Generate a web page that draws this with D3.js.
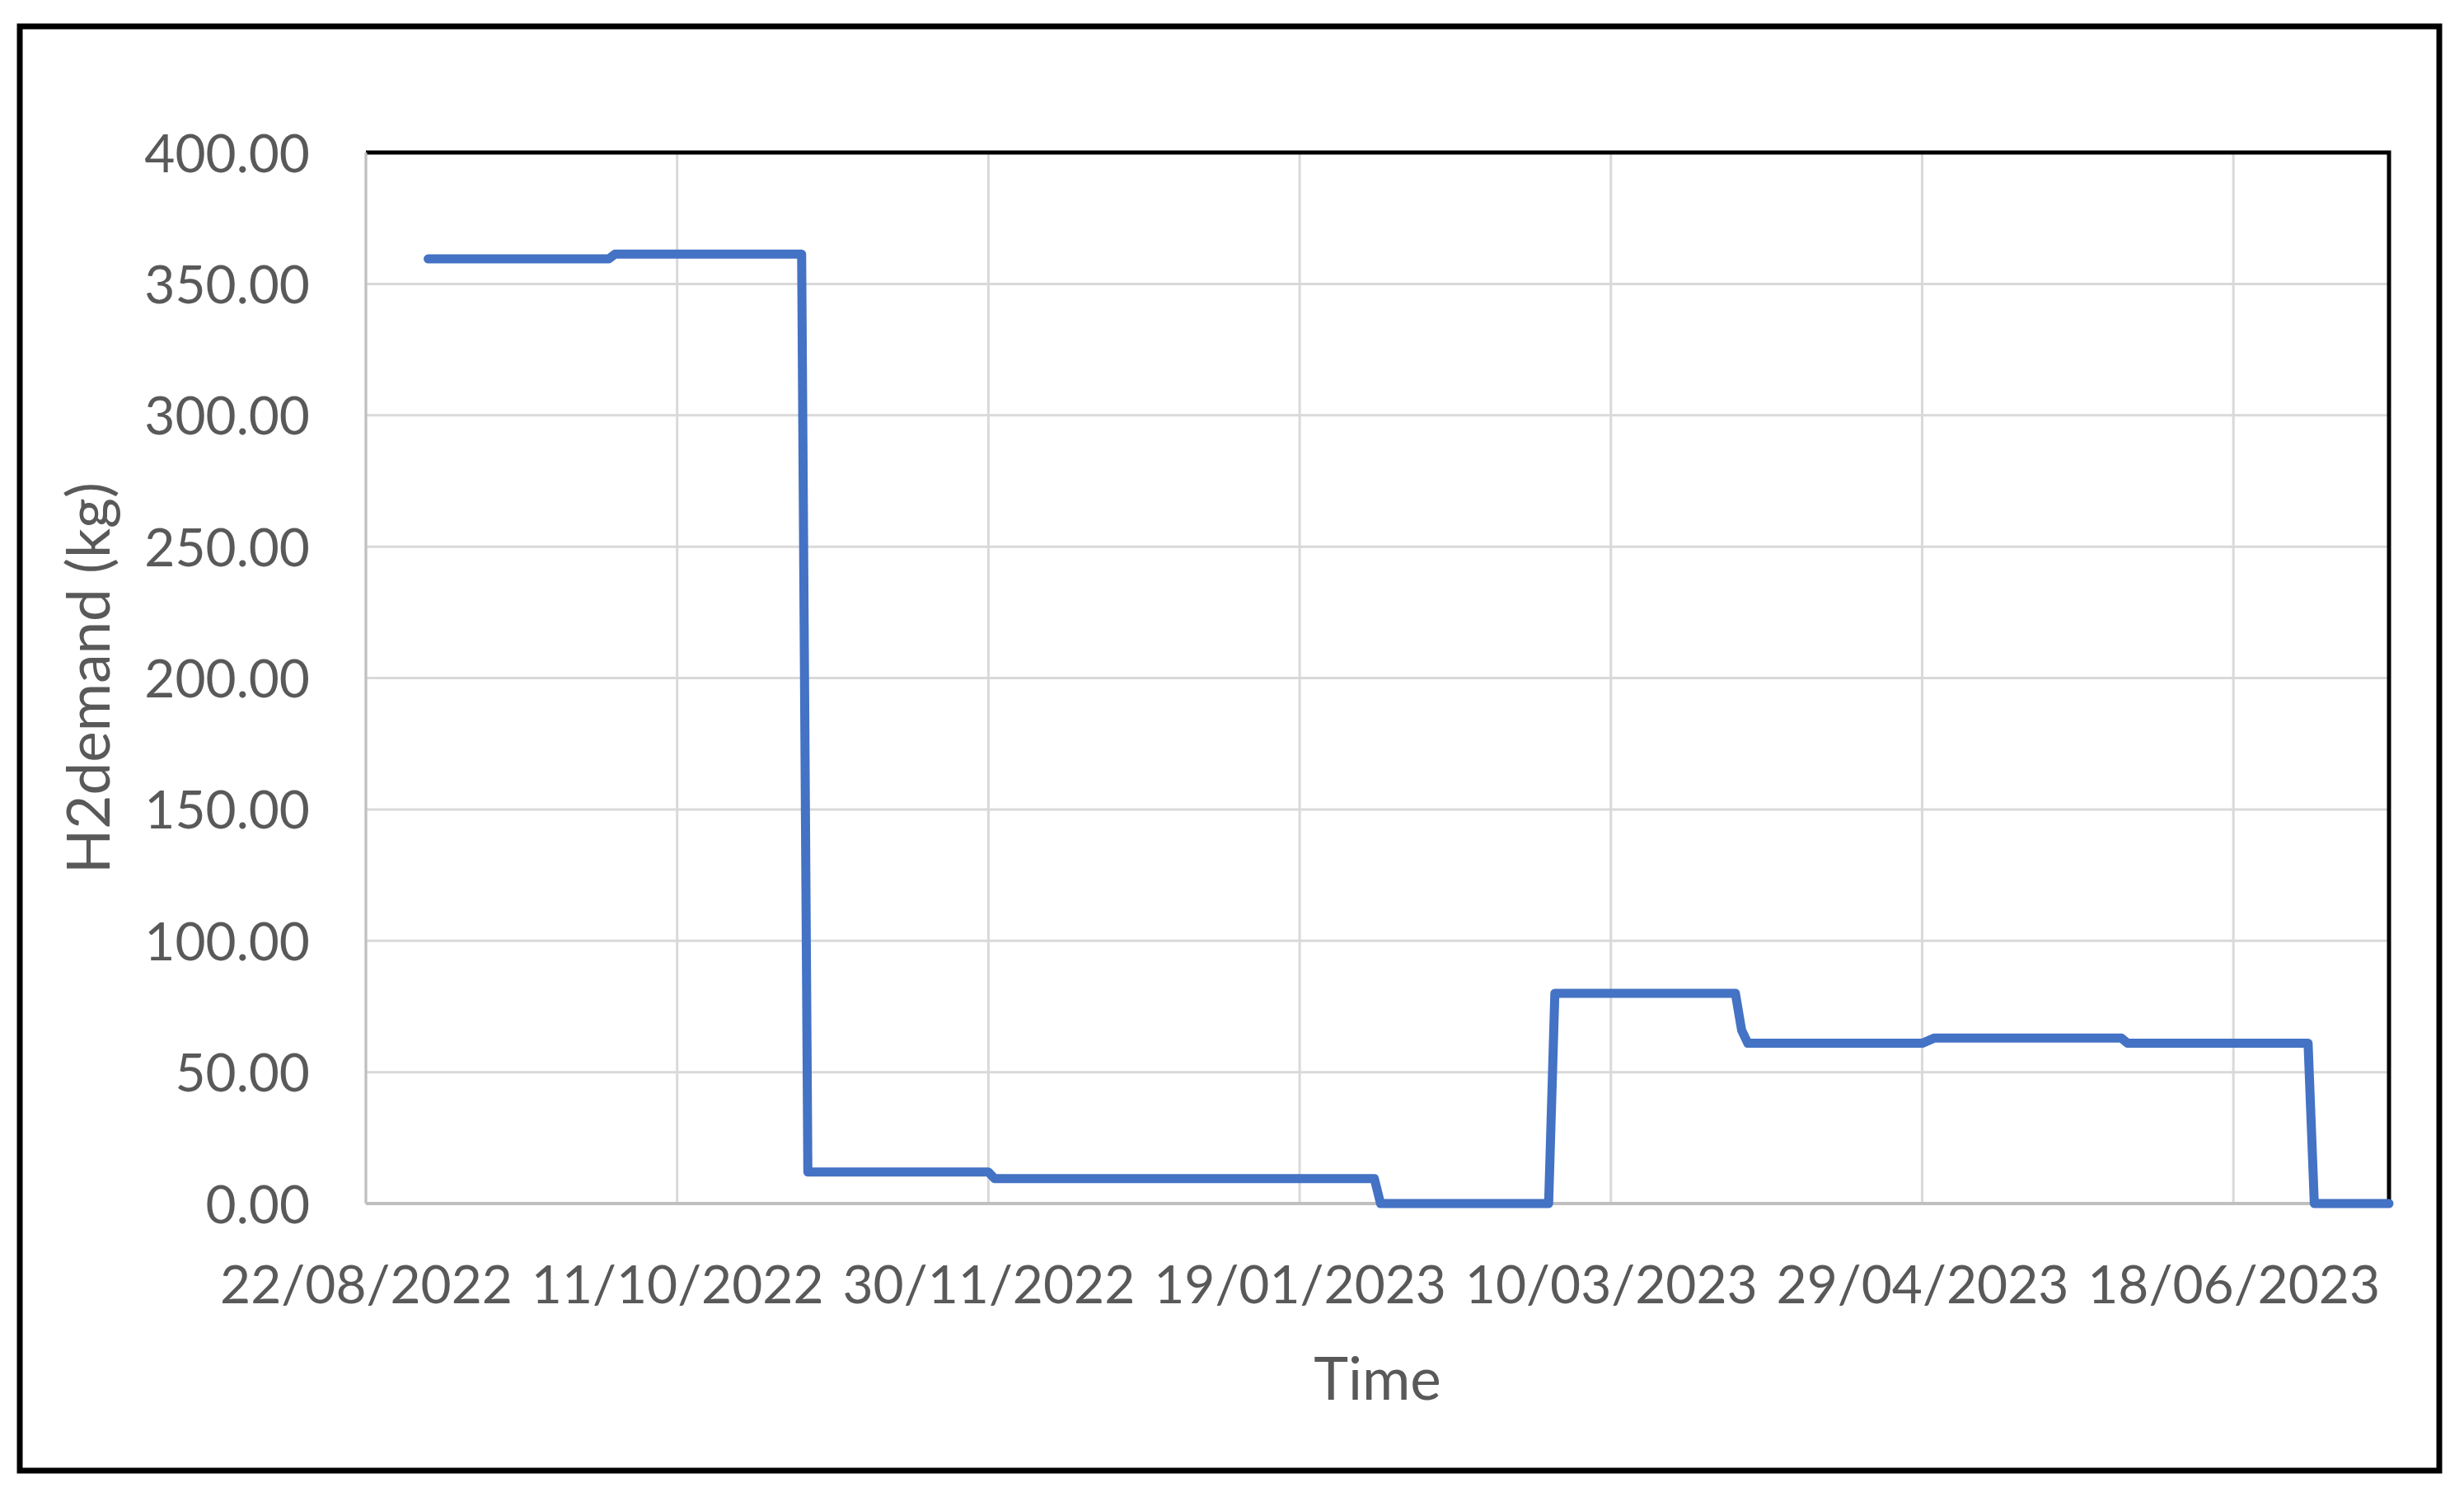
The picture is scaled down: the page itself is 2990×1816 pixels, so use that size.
<!DOCTYPE html>
<html>
<head>
<meta charset="utf-8">
<script src="https://cdn.jsdelivr.net/npm/d3@7"></script>
<style>
  body { margin: 0; background: #fff; }
  svg { display: block; }
</style>
</head>
<body>
<div id="chart"></div>
<script>
// data (dd/mm/yyyy, kg)
const dates = ["01/09/2022", "30/09/2022", "01/10/2022", "31/10/2022", "01/11/2022",
               "30/11/2022", "01/12/2022", "31/01/2023", "01/02/2023", "28/02/2023",
               "01/03/2023", "30/03/2023", "31/03/2023", "01/04/2023", "29/04/2023",
               "01/05/2023", "31/05/2023", "01/06/2023", "30/06/2023", "01/07/2023",
               "13/07/2023"]
const demand = [359.5, 359.5, 361.3, 361.3, 12,
                12, 9.5, 9.5, 0, 0,
                80, 80, 66, 61, 61,
                63, 63, 61, 61, 0,
                0]
const xTickLabels = ["22/08/2022", "11/10/2022", "30/11/2022", "19/01/2023",
                     "10/03/2023", "29/04/2023", "18/06/2023"]
const xDomainLabels = ["22/08/2022", "13/07/2023"]
const yTicks = [0, 50, 100, 150, 200, 250, 300, 350, 400]

const parseDate = d3.utcParse("%d/%m/%Y")
const fmtDate = d3.utcFormat("%d/%m/%Y")
const data = dates.map((d, i) => ({date: parseDate(d), value: demand[i]}))

// layout
const width = 2990
const height = 1816
const margin = {top: 185, right: 91, bottom: 356, left: 444}
const innerWidth = width - margin.left - margin.right
const innerHeight = height - margin.top - margin.bottom
const textColor = "#595959"
const font = "Lato, 'Open Sans', sans-serif"

const svg = d3.select("#chart").append("svg")
              .attr("width", width)
              .attr("height", height)
              .attr("viewBox", [0, 0, width, height])

svg.append("rect")
   .attr("width", width)
   .attr("height", height)
   .attr("fill", "#fff")

// outer frame
svg.append("rect")
   .attr("x", 24)
   .attr("y", 32)
   .attr("width", 2936)
   .attr("height", 1752)
   .attr("fill", "none")
   .attr("stroke", "#000")
   .attr("stroke-width", 7)

const chart = svg.append("g")
                 .attr("transform", `translate(${margin.left}, ${margin.top})`)

// scales
const xScale = d3.scaleUtc()
                 .domain(xDomainLabels.map(parseDate))
                 .range([0, innerWidth])
const yScale = d3.scaleLinear()
                 .domain([0, 400])
                 .range([innerHeight, 0])

// gridlines
chart.append("g")
     .selectAll("line")
     .data(yTicks)
     .join("line")
     .attr("x1", 0)
     .attr("x2", innerWidth)
     .attr("y1", d => yScale(d))
     .attr("y2", d => yScale(d))
     .attr("stroke", "#d9d9d9")
     .attr("stroke-width", 3)
chart.append("g")
     .selectAll("line")
     .data(xTickLabels.map(parseDate))
     .join("line")
     .attr("x1", d => xScale(d))
     .attr("x2", d => xScale(d))
     .attr("y1", 0)
     .attr("y2", innerHeight)
     .attr("stroke", "#d9d9d9")
     .attr("stroke-width", 3)

// plot area border: black top and right
chart.append("path")
     .attr("d", `M0,0H${innerWidth}V${innerHeight}`)
     .attr("fill", "none")
     .attr("stroke", "#000")
     .attr("stroke-width", 5)

// axes
const xAxis = d3.axisBottom(xScale)
                .tickValues(xTickLabels.map(parseDate))
                .tickFormat(fmtDate)
                .tickSize(0)
                .tickPadding(0)
const yAxis = d3.axisLeft(yScale)
                .tickValues(yTicks)
                .tickFormat(d3.format(".2f"))
                .tickSize(0)
                .tickPadding(0)

const gx = chart.append("g")
                .attr("transform", `translate(0, ${innerHeight})`)
                .call(xAxis)
                .attr("font-family", font)
                .attr("font-size", 64)
gx.select(".domain").remove()
gx.selectAll("text")
  .attr("y", 121)
  .attr("dy", 0)
  .attr("fill", textColor)

const gy = chart.append("g")
                .call(yAxis)
                .attr("font-family", font)
                .attr("font-size", 64)
gy.select(".domain").remove()
gy.selectAll("text")
  .attr("x", -68)
  .attr("dy", "0.36em")
  .attr("fill", textColor)

// gray axis lines on left and bottom
chart.append("line")
     .attr("x1", 0).attr("x2", innerWidth)
     .attr("y1", innerHeight).attr("y2", innerHeight)
     .attr("stroke", "#bfbfbf")
     .attr("stroke-width", 4)
chart.append("line")
     .attr("x1", 0).attr("x2", 0)
     .attr("y1", 0).attr("y2", innerHeight)
     .attr("stroke", "#bfbfbf")
     .attr("stroke-width", 3)

// the line
const line = d3.line()
               .x(d => xScale(d.date))
               .y(d => yScale(d.value))
chart.append("path")
     .attr("d", line(data))
     .attr("fill", "none")
     .attr("stroke", "#4472c4")
     .attr("stroke-width", 11)
     .attr("stroke-linejoin", "round")
     .attr("stroke-linecap", "round")

// axis titles
svg.append("text")
   .attr("x", margin.left + innerWidth / 2)
   .attr("y", 1698)
   .attr("text-anchor", "middle")
   .attr("fill", textColor)
   .attr("font-family", font)
   .attr("font-size", 71)
   .text("Time")
svg.append("text")
   .attr("transform", `translate(133, ${margin.top + innerHeight / 2}) rotate(-90)`)
   .attr("text-anchor", "middle")
   .attr("fill", textColor)
   .attr("font-family", font)
   .attr("font-size", 71)
   .text("H2demand (kg)")
</script>
</body>
</html>
